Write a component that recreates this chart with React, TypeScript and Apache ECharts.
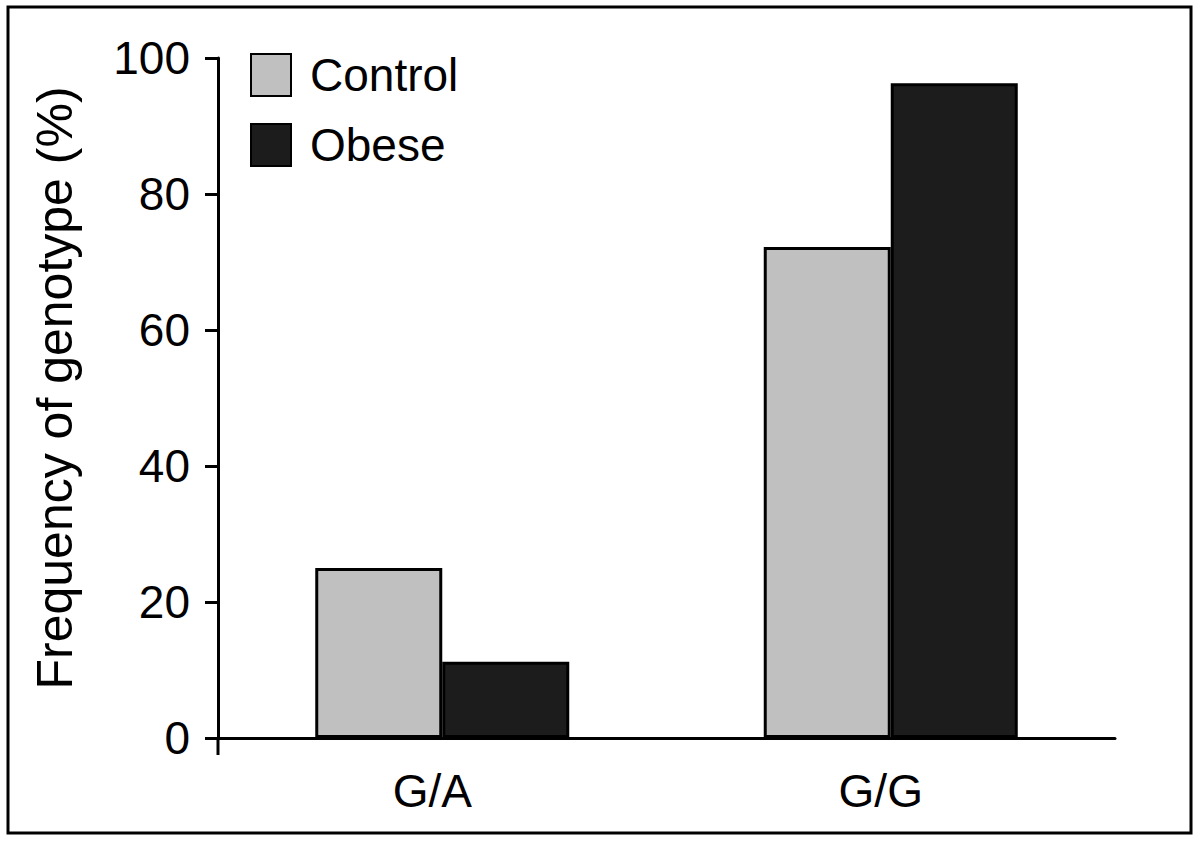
import React, { useEffect, useRef } from "react";
import * as echarts from "echarts";

const categories = ["G/A", "G/G"];
const controlValues = [25, 72.2];
const obeseValues = [11.2, 96.3];
const seriesNames = ["Control", "Obese"];
const yTitle = "Frequency of genotype (%)";

export default function App() {
  const ref = useRef<HTMLDivElement>(null);
  useEffect(() => {
    if (!ref.current) return;
    const chart = echarts.init(ref.current, null, { renderer: "svg" });
    const font = "Liberation Sans, Arial, sans-serif";
    chart.setOption({
      animation: false,
      backgroundColor: "#ffffff",
      graphic: [
        {
          type: "rect",
          shape: { x: 8, y: 7, width: 1183, height: 826 },
          style: { fill: "none", stroke: "#000", lineWidth: 3 },
          silent: true,
        },
        {
          type: "line",
          shape: { x1: 218, y1: 738, x2: 218, y2: 755 },
          style: { stroke: "#000", lineWidth: 3 },
          silent: true,
        },
      ],
      legend: {
        orient: "vertical",
        left: 245,
        top: 47,
        itemWidth: 40,
        itemHeight: 42,
        itemGap: 24,
        icon: "rect",
        data: seriesNames,
        textStyle: {
          fontFamily: font,
          fontSize: 46,
          color: "#000",
          padding: [0, 0, 0, 14],
        },
      },
      grid: { left: 218, right: 85, top: 58, bottom: 109, containLabel: false },
      xAxis: {
        type: "category",
        data: categories,
        axisLine: { show: true, lineStyle: { color: "#000", width: 3 } },
        axisTick: { show: false },
        axisLabel: {
          fontFamily: font,
          fontSize: 46,
          color: "#000",
          margin: 30,
          padding: [0, 20, 0, 0],
        },
        splitLine: { show: false },
      },
      yAxis: {
        type: "value",
        min: 0,
        max: 100,
        interval: 20,
        name: yTitle,
        nameLocation: "middle",
        nameGap: 138,
        nameTextStyle: {
          fontFamily: font,
          fontSize: 50,
          color: "#000",
          padding: [0, 0, 0, 20],
        },
        axisLine: { show: true, lineStyle: { color: "#000", width: 3 } },
        axisTick: { show: true, length: 13, lineStyle: { color: "#000", width: 3 } },
        axisLabel: { fontFamily: font, fontSize: 46, color: "#000", margin: 28 },
        splitLine: { show: false },
      },
      series: [
        {
          name: seriesNames[0],
          type: "bar",
          data: controlValues,
          barWidth: 127,
          barGap: "0%",
          itemStyle: { color: "#c0c0c0", borderColor: "#000", borderWidth: 3 },
        },
        {
          name: seriesNames[1],
          type: "bar",
          data: obeseValues,
          barWidth: 127,
          barGap: "0%",
          itemStyle: { color: "#1c1c1c", borderColor: "#000", borderWidth: 3 },
        },
      ],
    });
    return () => chart.dispose();
  }, []);
  return (
    <div
      ref={ref}
      style={{ position: "fixed", left: 0, top: 0, width: 1200, height: 847 }}
    />
  );
}
